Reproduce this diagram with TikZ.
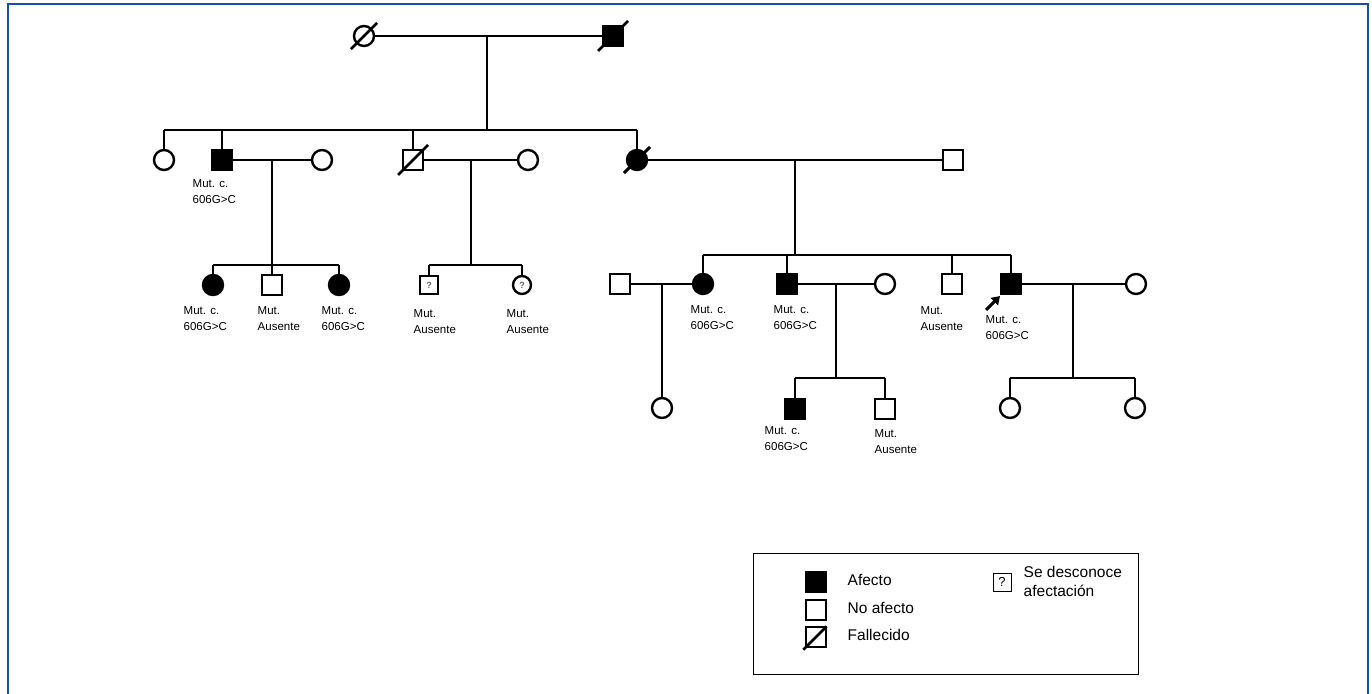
\documentclass[tikz,border=0pt]{standalone}
\usepackage{fontspec}
\setmainfont{Liberation Sans}
\usetikzlibrary{arrows.meta,calc}
\definecolor{frameblue}{RGB}{22,78,168}
\begin{document}
\begin{tikzpicture}[x=1pt,y=-1pt,
  line width=1.4pt,
  person/.style={draw, line width=2.4pt, minimum size=20pt, inner sep=0pt, outer sep=0pt},
  sq/.style={person, rectangle},
  ci/.style={person, circle},
  aff/.style={fill=black},
  unk/.style={minimum size=18pt, font=\fontsize{9}{9}\selectfont\bfseries\color{black!60}},
  slash/.style={line width=2.5pt},
  lbl/.style={anchor=north west, inner sep=0pt, align=left, font=\fontsize{11.5}{15.5}\selectfont},
  legsym/.style={draw, line width=1.4pt, rectangle, minimum size=20pt, inner sep=0pt},
  legtxt/.style={anchor=west, inner sep=0pt, font=\fontsize{15.5}{19}\selectfont}]
\useasboundingbox (0,0) rectangle (1372,693);
% frame
\draw[frameblue, line width=2.2pt] (8,700) -- (8,4) -- (1368,4) -- (1368,700);

% ---------- Generation I
\node[ci] (i1) at (364,36) {};
\node[sq, aff] (i2) at (613,36) {};
\draw[slash] ([shift={(-6,6)}]i1.south west) -- ([shift={(6,-6)}]i1.north east);
\draw[slash] ([shift={(-5,5)}]i2.south west) -- ([shift={(5,-5)}]i2.north east);
\draw (i1) -- (i2);
\coordinate (m1) at (487,36);
\coordinate (sibII) at (0,130);
\draw (m1) -- (m1 |- sibII);

% ---------- Generation II
\node[ci] (ii1) at (164,160) {};
\node[sq, aff] (ii2) at (222,160) {};
\node[ci] (ii3) at (322,160) {};
\node[sq] (ii4) at (413,160) {};
\node[ci] (ii5) at (528,160) {};
\node[ci, aff] (ii6) at (637,160) {};
\node[sq] (ii7) at (953,160) {};
\draw[slash] ([shift={(-5,5)}]ii4.south west) -- ([shift={(5,-5)}]ii4.north east);
\draw[slash, line width=3pt] ([shift={(-6,6)}]ii6.south west) -- ([shift={(6,-6)}]ii6.north east);
\draw (ii1 |- sibII) -- (ii6 |- sibII);
\foreach \n in {ii1,ii2,ii4,ii6} \draw (\n) -- (\n |- sibII);
\node[lbl] (l2) at (192,179) {Mut. c.\\606G>C};

\draw (ii2) -- (ii3);
\draw (ii4) -- (ii5);
\draw (ii6) -- (ii7);
\coordinate (m2) at (272,160);
\coordinate (m3) at (471,160);
\coordinate (m4) at (795,160);
\coordinate (sibIIIa) at (0,265);
\coordinate (sibIIIb) at (0,255);
\draw (m2) -- (m2 |- sibIIIa);
\draw (m3) -- (m3 |- sibIIIa);
\draw (m4) -- (m4 |- sibIIIb);

% ---------- Generation III (left families)
\node[ci, aff] (iii1) at (213,285) {};
\node[sq] (iii2) at (272,285) {};
\node[ci, aff] (iii3) at (339,285) {};
\node[sq, unk] (iii4) at (429,285) {?};
\node[ci, unk] (iii5) at (522,285) {?};
\draw (iii1 |- sibIIIa) -- (iii3 |- sibIIIa);
\draw (iii4 |- sibIIIa) -- (iii5 |- sibIIIa);
\foreach \n in {iii1,iii2,iii3,iii4,iii5} \draw (\n) -- (\n |- sibIIIa);
\node[lbl] (l31) at (183,306) {Mut. c.\\606G>C};
\node[lbl] (l32) at (257,306) {Mut.\\Ausente};
\node[lbl] (l33) at (321,306) {Mut. c.\\606G>C};
\node[lbl] (l34) at (413,309) {Mut.\\Ausente};
\node[lbl] (l35) at (506,309) {Mut.\\Ausente};

% ---------- Generation III (right family)
\node[sq] (iii6) at (620,284) {};
\node[ci, aff] (iii7) at (703,284) {};
\node[sq, aff] (iii8) at (787,284) {};
\node[ci] (iii9) at (885,284) {};
\node[sq] (iii10) at (952,284) {};
\node[sq, aff] (iii11) at (1011,284) {};
\node[ci] (iii12) at (1136,284) {};
\draw (iii7 |- sibIIIb) -- (iii11 |- sibIIIb);
\foreach \n in {iii7,iii8,iii10,iii11} \draw (\n) -- (\n |- sibIIIb);
\draw (iii6) -- (iii7);
\draw (iii8) -- (iii9);
\draw (iii11) -- (iii12);
\node[lbl] (l37) at (690,305) {Mut. c.\\606G>C};
\node[lbl] (l38) at (773,305) {Mut. c.\\606G>C};
\node[lbl] (l310) at (920,306) {Mut.\\Ausente};
\node[lbl] (l311) at (985,315) {Mut. c.\\606G>C};
% proband arrow
\coordinate (pa) at (986,310);
\coordinate (pb) at (1000,296);
\draw[line width=3pt, -{Triangle[length=8pt,width=10pt]}] (pa) -- (pb);

% ---------- Generation IV
\coordinate (m5) at (662,284);
\coordinate (m6) at (836,284);
\coordinate (m7) at (1073,284);
\coordinate (sibIV) at (0,378);
\node[ci] (iv1) at (662,408) {};
\node[sq, aff] (iv2) at (795,409) {};
\node[sq] (iv3) at (885,409) {};
\node[ci] (iv4) at (1010,408) {};
\node[ci] (iv5) at (1135,408) {};
\draw (m5) -- (iv1);
\draw (m6) -- (m6 |- sibIV);
\draw (m7) -- (m7 |- sibIV);
\draw (iv2 |- sibIV) -- (iv3 |- sibIV);
\draw (iv4 |- sibIV) -- (iv5 |- sibIV);
\foreach \n in {iv2,iv3,iv4,iv5} \draw (\n) -- (\n |- sibIV);
\node[lbl] (l42) at (764,426) {Mut. c.\\606G>C};
\node[lbl] (l43) at (874,429) {Mut.\\Ausente};

% ---------- Legend
\node[draw, line width=1.4pt, minimum width=385pt, minimum height=121pt, inner sep=0pt, anchor=north west] (legend) at (753,553) {};
\node[legsym, fill=black] (la) at (816,582) {};
\node[legsym] (lb) at (816,610) {};
\node[legsym] (lc) at (816,637) {};
\draw[line width=2.6pt] ([shift={(-2,2)}]lc.south west) -- (lc.north east);
\node[legtxt] (ta) at (847,580) {Afecto};
\node[legtxt] (tb) at (847,608) {No afecto};
\node[legtxt] (tc) at (847,635) {Fallecido};
\node[legsym, line width=1pt, minimum size=18pt, font=\fontsize{13}{13}\selectfont] (ld) at (1002,582) {?};
\node[anchor=north west, inner sep=0pt, align=left, font=\fontsize{15.5}{19}\selectfont] (td) at (1023,566) {Se desconoce\\afectación};
\end{tikzpicture}
\end{document}
